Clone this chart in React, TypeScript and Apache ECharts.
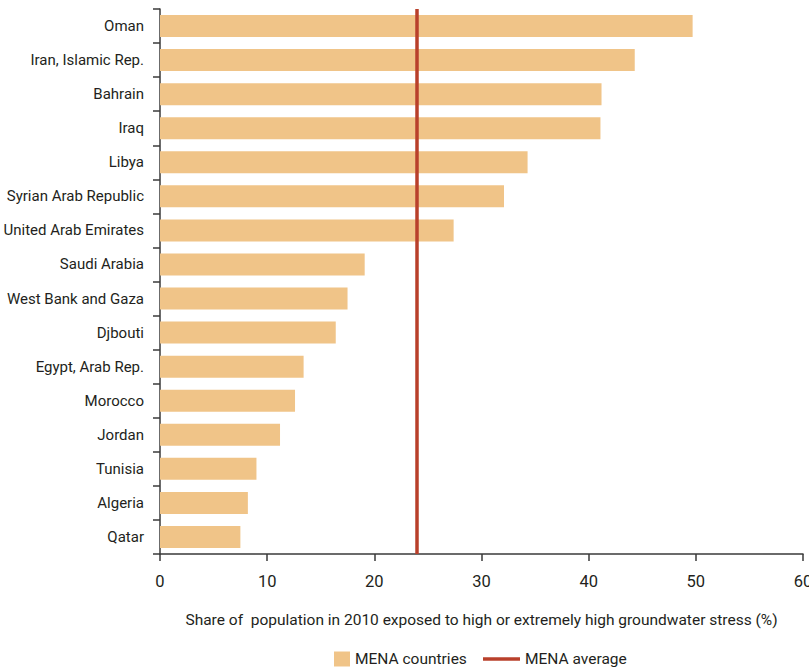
import React, { useEffect, useRef } from "react";
import * as echarts from "echarts";

const countries = [
  "Oman",
  "Iran, Islamic Rep.",
  "Bahrain",
  "Iraq",
  "Libya",
  "Syrian Arab Republic",
  "United Arab Emirates",
  "Saudi Arabia",
  "West Bank and Gaza",
  "Djbouti",
  "Egypt, Arab Rep.",
  "Morocco",
  "Jordan",
  "Tunisia",
  "Algeria",
  "Qatar",
];
const shares = [49.7, 44.3, 41.2, 41.1, 34.3, 32.1, 27.4, 19.1, 17.5, 16.4, 13.4, 12.6, 11.2, 9.0, 8.2, 7.5];
const menaAverage = 24;
const xTicks = [0, 10, 20, 30, 40, 50, 60];

const FONT = "Roboto, 'Noto Sans', sans-serif";
const TEXT = "#231f20";
const BAR = "#F0C488";
const RED = "#B9402B";

export default function App() {
  const ref = useRef<HTMLDivElement>(null);
  useEffect(() => {
    document.body.style.margin = "0";
    if (!ref.current) return;
    const chart = echarts.init(ref.current, undefined, { renderer: "svg" });
    chart.setOption({
      animation: false,
      textStyle: { fontFamily: FONT, color: TEXT },
      grid: { left: 160, right: 6, top: 9, bottom: 117, containLabel: false, outerBoundsMode: "none" },
      legend: [
        {
          data: [{ name: "MENA countries", icon: "rect" }],
          left: 334,
          top: 650,
          padding: 0,
          itemWidth: 16,
          itemHeight: 15,
          itemGap: 8,
          textStyle: { fontFamily: FONT, fontSize: 15.5, lineHeight: 18, color: TEXT },
        },
        {
          data: [{ name: "MENA average", icon: "rect" }],
          left: 483,
          top: 650,
          padding: 0,
          itemWidth: 37,
          itemHeight: 3.5,
          textStyle: { fontFamily: FONT, fontSize: 15.5, lineHeight: 18, color: TEXT },
        },
      ],
      xAxis: {
        type: "value",
        min: xTicks[0],
        max: xTicks[xTicks.length - 1],
        interval: 10,
        name: "Share of  population in 2010 exposed to high or extremely high groundwater stress (%)",
        nameLocation: "middle",
        nameGap: 58,
        nameTextStyle: { fontFamily: FONT, fontSize: 15.5, color: TEXT },
        axisLine: { show: true, lineStyle: { color: "#3a3a3a", width: 1.5 } },
        axisTick: { show: true, length: 7, lineStyle: { color: "#3a3a3a", width: 1.5 } },
        axisLabel: { fontFamily: FONT, fontSize: 16.5, color: TEXT, margin: 19 },
        splitLine: { show: false },
      },
      yAxis: {
        type: "category",
        data: countries,
        inverse: true,
        axisLine: { show: true, lineStyle: { color: "#3a3a3a", width: 1.5 } },
        axisTick: { show: true, length: 7, lineStyle: { color: "#3a3a3a", width: 1.5 } },
        axisLabel: { fontFamily: FONT, fontSize: 15, color: TEXT, margin: 16 },
        splitLine: { show: false },
      },
      series: [
        {
          name: "MENA countries",
          type: "bar",
          data: shares,
          barWidth: 22,
          itemStyle: { color: BAR },
          z: 1,
        },
        {
          name: "MENA average",
          type: "line",
          data: [],
          symbol: "none",
          itemStyle: { color: RED },
          lineStyle: { color: RED, width: 3.5 },
          z: 3,
          markLine: {
            silent: true,
            symbol: ["none", "none"],
            label: { show: false },
            lineStyle: { color: RED, width: 3.5, type: "solid" },
            data: [{ xAxis: menaAverage }],
          },
        },
      ],
    });
    return () => chart.dispose();
  }, []);
  return <div ref={ref} style={{ width: 809, height: 671 }} />;
}
